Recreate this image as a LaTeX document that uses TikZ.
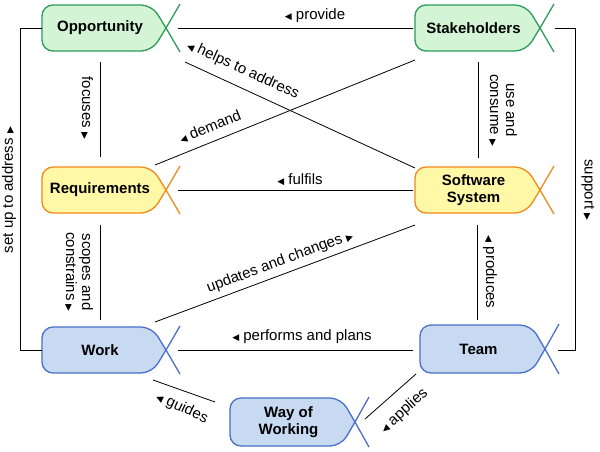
\documentclass[tikz,border=0pt]{standalone}
\usepackage{fontspec}
\setmainfont{Liberation Sans}
\newfontfamily\sym{DejaVu Sans}
\newcommand\lt{{\sym\fontsize{9}{9}\selectfont ◀}}
\newcommand\rt{{\sym\fontsize{9}{9}\selectfont ▶}}
\definecolor{gf}{HTML}{D3F5D6}\definecolor{gd}{HTML}{2E9B5A}
\definecolor{yf}{HTML}{FFF8A6}\definecolor{yd}{HTML}{F08A1C}
\definecolor{bf}{HTML}{C8DAF2}\definecolor{bd}{HTML}{4A70C8}
\newcommand\alphabox[8]{%
\path[fill=#6,draw=#7,line width=1.3pt,rounded corners=11pt] (#3,#4) -- ({#3-14},{#4-#5}) -- (#2,{#4-#5}) -- (#2,{#4+#5}) -- ({#3-14},{#4+#5}) -- (#3,#4);
\draw[#7,line width=1.3pt] ({#3+14},{#4-#5-1}) -- (#3,#4) -- ({#3+14},{#4+#5+1});
\node[font=\bfseries\fontsize{15}{17}\selectfont,align=center,inner sep=0pt] (#1) at ({(#2+#3-8)/2},#4) {#8};}
\begin{document}
\begin{tikzpicture}[x=1pt,y=-1pt,lab/.style={font=\fontsize{15}{16}\selectfont,inner sep=1pt,align=center},con/.style={line width=0.8pt}]
\useasboundingbox[fill=white] (0,0) rectangle (600,451);
\alphabox{opp}{42}{166}{28}{23}{gf}{gd}{Opportunity}
\alphabox{stk}{415}{540}{28}{23}{gf}{gd}{Stakeholders}
\alphabox{req}{42}{166}{190}{23}{yf}{yd}{Requirements}
\alphabox{sw}{415}{540}{190}{23}{yf}{yd}{Software\\System}
\alphabox{wrk}{42}{166}{350}{23}{bf}{bd}{Work}
\alphabox{tm}{420}{545}{349}{24}{bf}{bd}{Team}
\alphabox{wow}{230}{355}{422}{24}{bf}{bd}{Way of\\Working}
% connectors
\draw[con] (178,28) -- (413,28);
\node[lab] (l1) at (315,16) {\lt\ provide};
\draw[con] (42,28) -- (20,28) -- (20,350) -- (42,350);
\node[lab,rotate=90] (l2) at (9,190) {set up to address \rt};
\draw[con] (555,28) -- (575,28) -- (575,350) -- (558,350);
\node[lab,rotate=-90] (l3) at (588,190) {support \rt};
\draw[con] (100,62) -- (100,157);
\node[lab,rotate=-90] (l4) at (87,108) {focuses \rt};
\draw[con] (185,62) -- (415,168);
\node[lab,rotate=-24.7] (l5) at (243,70) {\lt\ helps to address};
\draw[con] (155,165) -- (415,60);
\node[lab,rotate=22] (l6) at (210,127) {\lt\ demand};
\draw[con] (178,190) -- (413,190);
\node[lab] (l7) at (300,180) {\lt\ fulfils};
\draw[con] (478,62) -- (478,158);
\node[lab,rotate=-90] (l8) at (503,110) {use and\\consume \rt};
\draw[con] (100,225) -- (100,320);
\node[lab,rotate=-90] (l9) at (79,272) {scopes and\\constrains \rt};
\draw[con] (155,322) -- (415,225);
\node[lab,rotate=20.5] (l10) at (280,262) {updates and changes \rt};
\draw[con] (178,350) -- (413,350);
\node[lab] (l11) at (302,337) {\lt\ performs and plans};
\draw[con] (477,225) -- (477,320);
\node[lab,rotate=-90] (l12) at (490,272) {\lt\ produces};
\draw[con] (153,380) -- (215,402);
\node[lab,rotate=-25] (l13) at (182,408) {\lt\ guides};
\draw[con] (416,374) -- (365,419);
\node[lab,rotate=42] (l14) at (404,411) {\lt\ applies};
\end{tikzpicture}
\end{document}
